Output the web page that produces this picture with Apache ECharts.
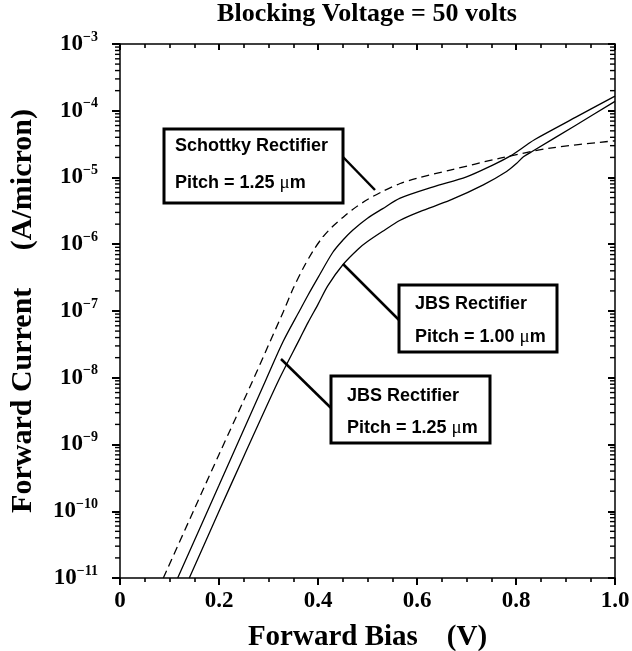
<!DOCTYPE html>
<html>
<head>
<meta charset="utf-8">
<script src="https://cdn.jsdelivr.net/npm/echarts@6/dist/echarts.min.js"></script>
<style>
html,body{margin:0;padding:0;background:#fff;}
#chart{width:632px;height:651px;}
</style>
</head>
<body>
<div id="chart"></div>
<script>
// ---- data (forward bias V, log10 of forward current A/micron) ----
const schottkyV   = [0.0875,0.15,0.20,0.269,0.30,0.33,0.35,0.37,0.39,0.41,0.43,0.45,0.47,0.50,0.53,0.566,0.60,0.667,0.768,0.869,1.0];
const schottkyLog = [-11,-9.97,-9.15,-8.03,-7.51,-7.01,-6.66,-6.36,-6.10,-5.89,-5.73,-5.60,-5.48,-5.33,-5.21,-5.09,-5.01,-4.89,-4.71,-4.56,-4.45];

const jbs125V   = [0.1165,0.2,0.2949,0.33,0.3636,0.38,0.40,0.43,0.45,0.47,0.50,0.53,0.566,0.633,0.70,0.754,0.788,0.822,0.838,0.92,1.0];
const jbs125Log = [-11,-9.61,-8.03,-7.45,-6.985,-6.76,-6.50,-6.12,-5.94,-5.79,-5.61,-5.47,-5.31,-5.14,-4.99,-4.81,-4.68,-4.51,-4.43,-4.10,-3.78];

const jbs100V   = [0.140,0.2,0.25,0.321,0.3636,0.38,0.40,0.42,0.451,0.4814,0.50,0.53,0.566,0.606,0.667,0.734,0.781,0.801,0.815,0.835,0.92,1.0];
const jbs100Log = [-11,-10.0,-9.18,-8.03,-7.41,-7.17,-6.90,-6.62,-6.30,-6.07,-5.96,-5.81,-5.64,-5.51,-5.34,-5.11,-4.91,-4.79,-4.69,-4.60,-4.22,-3.86];

const xTickLabels = ['0','0.2','0.4','0.6','0.8','1.0'];
const yDecades = [-11,-10,-9,-8,-7,-6,-5,-4,-3];
const minorMultipliers = [2,3,4,5,6,7,8,9];

const titleText = 'Blocking Voltage = 50 volts';
const xName = 'Forward Bias    (V)';
const yName = 'Forward Current     (A/micron)';

function toPairs(vs, logs){ return vs.map((v,i)=>[v, Math.pow(10, logs[i])]); }

const minorLeft = [], minorRight = [];
for (let d = yDecades[0]; d < yDecades[yDecades.length-1]; d++) {
  minorMultipliers.forEach(m => { minorLeft.push([0, m*Math.pow(10,d)]); minorRight.push([1, m*Math.pow(10,d)]); });
}

const serif = '"Liberation Serif","Times New Roman",serif';
const sans = '"Liberation Sans",Arial,sans-serif';

const chart = echarts.init(document.getElementById('chart'), null, {renderer:'canvas'});

const lineStyleSolid = {color:'#000', width:1.3};

// minor log ticks on the left/right frame, drawn as small rects pointing left (-x)
function minorTickSeries(data){
  return {type:'custom', data:data, clip:false, z:50,
    renderItem:(params, api)=>{
      const p = api.coord([api.value(0), api.value(1)]);
      return {type:'rect', shape:{x:p[0]-5, y:p[1]-0.7, width:5, height:1.4},
              style:{fill:'#000'}};
    }};
}

const option = {
  animation:false,
  backgroundColor:'#fff',
  grid:{left:120, right:17, top:44, bottom:73, containLabel:false, outerBoundsMode:'none'},
  xAxis:[
    {type:'value', position:'bottom', min:0, max:1, interval:0.2,
     axisLine:{show:true, onZero:false, lineStyle:{color:'#000', width:1.5}},
     axisTick:{show:true, inside:false, length:7, lineStyle:{color:'#000', width:2}},
     minorTick:{show:true, splitNumber:4, length:4, lineStyle:{color:'#000', width:1.6}},
     splitLine:{show:false},
     axisLabel:{margin:12, fontFamily:serif, fontWeight:'bold', fontSize:23, color:'#000',
       formatter:(v)=>xTickLabels[Math.round(v/0.2)]},
     name:xName, nameLocation:'middle', nameGap:45,
     nameTextStyle:{fontFamily:serif, fontWeight:'bold', fontSize:29, color:'#000'}
    },
    {type:'value', position:'top', min:0, max:1, interval:0.2,
     axisLine:{show:true, onZero:false, lineStyle:{color:'#000', width:1.5}},
     axisTick:{show:true, inside:true, length:6, lineStyle:{color:'#000', width:2}},
     minorTick:{show:true, splitNumber:4, length:4, lineStyle:{color:'#000', width:1.6}},
     splitLine:{show:false}, axisLabel:{show:false}
    }
  ],
  yAxis:[
    {type:'log', logBase:10, position:'left', min:1e-11, max:1e-3, splitNumber:8,
     axisLine:{show:true, onZero:false, lineStyle:{color:'#000', width:1.5}},
     axisTick:{show:true, inside:false, length:8, lineStyle:{color:'#000', width:2}},
     minorTick:{show:false}, splitLine:{show:false},
     axisLabel:{margin:22, color:'#000',
       formatter:(v)=>{const e=Math.round(Math.log10(v)); return '{b|10}{s|\u2212'+(-e)+'}';},
       rich:{
         b:{fontFamily:serif, fontWeight:'bold', fontSize:23, color:'#000'},
         s:{fontFamily:serif, fontWeight:'bold', fontSize:14, color:'#000', padding:[0,0,14,0]}
       }},
     name:yName, nameLocation:'middle', nameGap:82,
     nameTextStyle:{fontFamily:serif, fontWeight:'bold', fontSize:30, color:'#000'}
    },
    {type:'log', logBase:10, position:'right', min:1e-11, max:1e-3, splitNumber:8,
     axisLine:{show:true, onZero:false, lineStyle:{color:'#000', width:1.5}},
     axisTick:{show:true, inside:true, length:7, lineStyle:{color:'#000', width:2}},
     minorTick:{show:false}, splitLine:{show:false}, axisLabel:{show:false}
    }
  ],
  series:[
    {name:'Schottky Rectifier, Pitch = 1.25 μm', type:'line', data:toPairs(schottkyV, schottkyLog),
     showSymbol:false, smooth:0.3, clip:true,
     lineStyle:{color:'#000', width:1.3, type:[8,5]}},
    {name:'JBS Rectifier, Pitch = 1.25 μm', type:'line', data:toPairs(jbs125V, jbs125Log),
     showSymbol:false, smooth:0.3, clip:true, lineStyle:lineStyleSolid},
    {name:'JBS Rectifier, Pitch = 1.00 μm', type:'line', data:toPairs(jbs100V, jbs100Log),
     showSymbol:false, smooth:0.3, clip:true, lineStyle:lineStyleSolid},
    minorTickSeries(minorLeft),
    minorTickSeries(minorRight)
  ],
  graphic:[
    {type:'text', x:367, y:14, z:100,
     style:{text:titleText, font:'bold 26px '+serif, fill:'#000', textAlign:'center', textVerticalAlign:'middle'}},
    // Schottky callout
    {type:'line', z:100, shape:{x1:343, y1:157, x2:375, y2:190}, style:{stroke:'#000', lineWidth:2.5}},
    {type:'rect', z:100, shape:{x:164, y:129, width:179, height:74}, style:{fill:'#fff', stroke:'#000', lineWidth:3}},
    {type:'text', z:101, x:175, y:146, style:{text:'Schottky Rectifier', font:'bold 18px '+sans, fill:'#000', textVerticalAlign:'middle'}},
    {type:'text', z:101, x:175, y:183, style:{text:'{a|Pitch = 1.25 }{m|μ}{a|m}', textVerticalAlign:'middle',
      rich:{a:{font:'bold 18px '+sans, fill:'#000'}, m:{font:'19px '+serif, fill:'#000'}}}},
    // JBS 1.00 callout
    {type:'line', z:100, shape:{x1:399, y1:320, x2:343, y2:264}, style:{stroke:'#000', lineWidth:2.5}},
    {type:'rect', z:100, shape:{x:399, y:285, width:158, height:67}, style:{fill:'#fff', stroke:'#000', lineWidth:3}},
    {type:'text', z:101, x:415, y:304, style:{text:'JBS Rectifier', font:'bold 18px '+sans, fill:'#000', textVerticalAlign:'middle'}},
    {type:'text', z:101, x:415, y:337, style:{text:'{a|Pitch = 1.00 }{m|μ}{a|m}', textVerticalAlign:'middle',
      rich:{a:{font:'bold 18px '+sans, fill:'#000'}, m:{font:'19px '+serif, fill:'#000'}}}},
    // JBS 1.25 callout
    {type:'line', z:100, shape:{x1:331, y1:408, x2:281, y2:359}, style:{stroke:'#000', lineWidth:2.5}},
    {type:'rect', z:100, shape:{x:331, y:376, width:159, height:67}, style:{fill:'#fff', stroke:'#000', lineWidth:3}},
    {type:'text', z:101, x:347, y:396, style:{text:'JBS Rectifier', font:'bold 18px '+sans, fill:'#000', textVerticalAlign:'middle'}},
    {type:'text', z:101, x:347, y:428, style:{text:'{a|Pitch = 1.25 }{m|μ}{a|m}', textVerticalAlign:'middle',
      rich:{a:{font:'bold 18px '+sans, fill:'#000'}, m:{font:'19px '+serif, fill:'#000'}}}}
  ]
};
chart.setOption(option);
</script>
</body>
</html>
